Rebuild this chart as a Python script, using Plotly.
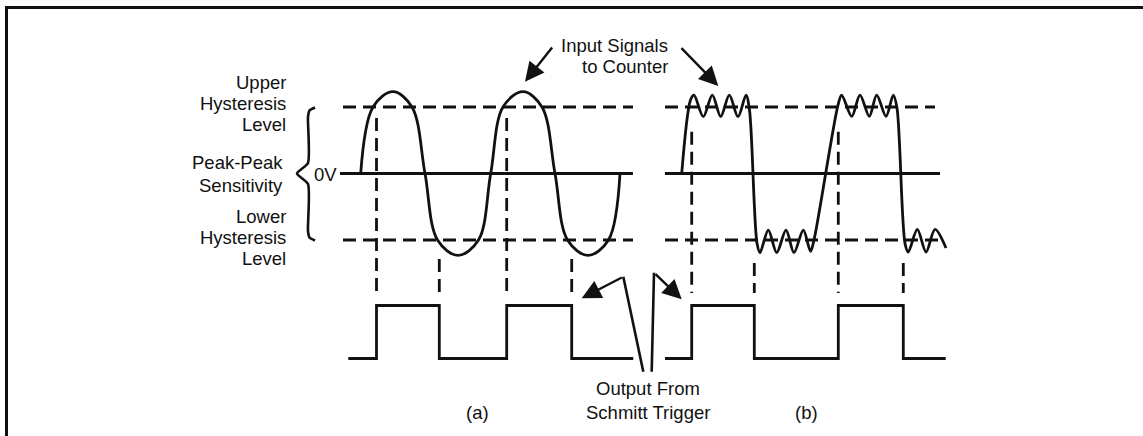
import plotly.graph_objects as go

W, H = 1143, 436

# ---------------- data ----------------
# Levels: 0 V = 0, upper / lower hysteresis levels = +1 / -1
hyst_upper = 1.0
hyst_zero = 0.0
hyst_lower = -1.0

# (a) sine-wave input signal: time position and level
sine_t = [360.7, 373, 393, 412, 425, 437.5, 458, 478.5, 490.7, 503, 523, 542, 555, 567.5, 588, 608.5, 620]
sine_v = [0, 1.0, 1.23, 1.0, 0, -1.0, -1.23, -1.0, 0, 1.0, 1.23, 1.0, 0, -1.0, -1.23, -1.0, 0]

# (b) noisy square-ish input signal
noisy_t = [681.7, 690.5, 694, 703.3, 712.3, 720.7, 729.3, 738, 746, 749.5, 757, 760,
           768.3, 776.7, 786, 794, 803.3, 810.5, 814, 838, 841.7, 851.7, 860, 869.3,
           876.7, 886, 893.3, 897, 905, 908.3, 917.3, 926, 935, 946]
noisy_v = [0, 1.105, 1.18, 0.854, 1.18, 0.854, 1.18, 0.854, 1.18, 0.955, -1.05, -1.19,
           -0.85, -1.19, -0.85, -1.19, -0.85, -1.17, -1.0, 1.03, 1.18, 0.86, 1.18, 0.86,
           1.18, 0.86, 1.18, 0.985, -1.05, -1.18, -0.84, -1.18, -0.84, -1.12]

# Schmitt trigger output (0 = low, 1 = high), step edges
out_a_t = [348.3, 376.5, 439.3, 506.7, 571.7, 633.3]
out_a_v = [0, 1, 0, 1, 0, 0]
out_b_t = [665, 691.7, 754.3, 838.3, 903.3, 945.7]
out_b_v = [0, 1, 0, 1, 0, 0]

# trigger instants (where output switches)
rise_a = [376.5, 506.7]
fall_a = [439.3, 571.7]
rise_b = [691.7, 838.3]
fall_b = [754.3, 903.3]

# extents of the reference level lines for each panel
span_a = (343, 633)
span_a_zero = (340, 633)
span_b = (665, 935)
span_b_zero = (665, 940)
span_b_lower = (665, 940)

INK = "#111111"
FONT = "Liberation Sans, Arial, Helvetica, sans-serif"
LW = 2.8
DASH = "13px,7px"

fig = go.Figure()


def add_line(x, y, dash=None, shape="linear", yaxis="y", smoothing=1.0, width=LW):
    fig.add_trace(go.Scatter(
        x=x, y=y, mode="lines", yaxis=yaxis, hoverinfo="skip", showlegend=False,
        line=dict(color=INK, width=width, dash=dash, shape=shape,
                  smoothing=smoothing if shape == "spline" else None)))


# reference level lines
for lo, hi in (span_a, span_b):
    add_line([lo, hi], [hyst_upper, hyst_upper], dash=DASH)
add_line([span_a[0], span_a[1]], [hyst_lower, hyst_lower], dash=DASH)
add_line([span_b_lower[0], span_b_lower[1]], [hyst_lower, hyst_lower], dash=DASH)
add_line([span_a_zero[0], span_a_zero[1]], [hyst_zero, hyst_zero])
add_line([span_b_zero[0], span_b_zero[1]], [hyst_zero, hyst_zero])

# vertical dashed projection lines (level units on the input axis)
def proj(times, top, bottom):
    xs, ys = [], []
    for t in times:
        xs += [t, t, None]
        ys += [top, bottom, None]
    add_line(xs, ys, dash=DASH)

proj(rise_a, 0.835, -1.857)
proj(fall_a, -1.286, -1.857)
proj(rise_b, 0.629, -1.797)
proj(fall_b, -1.346, -1.797)

# input signals
add_line(sine_t, sine_v, shape="spline", smoothing=1.0)
add_line(noisy_t, noisy_v, shape="spline", smoothing=0.9)

# output signals
add_line(out_a_t, out_a_v, shape="hv", yaxis="y2")
add_line(out_b_t, out_b_v, shape="hv", yaxis="y2")

# brace (layout pixel axis)
brace_x = [315, 309.5, 308, 308, 297, 308, 308, 309.5, 315]
brace_y = [107.5, 110.5, 117, 163, 173.5, 184, 231, 237.5, 240.5]
add_line(brace_x, brace_y, shape="spline", smoothing=0.6, yaxis="y3", width=2.6)

# leader lines for "Output From Schmitt Trigger"
add_line([643.3, 623.3], [371.7, 276.7], yaxis="y3", width=2.6)
add_line([651.7, 654.0], [371.7, 272.7], yaxis="y3", width=2.6)

# ---------------- text ----------------
def label(text, x, y, xanchor="center"):
    fig.add_annotation(text=text, x=x, y=y, xref="x", yref="y3", showarrow=False,
                       xanchor=xanchor, yanchor="middle",
                       font=dict(family=FONT, size=18.5, color=INK))

label("Upper", 288, 82, "right")
label("Hysteresis", 288, 103, "right")
label("Level", 288, 124, "right")
label("Peak-Peak", 285, 162, "right")
label("Sensitivity", 285, 185, "right")
label("Lower", 288, 216.5, "right")
label("Hysteresis", 288, 237, "right")
label("Level", 288, 258.5, "right")
label("0V", 339, 174, "right")
label("Input Signals", 670, 45.5, "right")
label("to Counter", 670, 66.5, "right")
label("Output From", 647.5, 388)
label("Schmitt Trigger", 647.5, 412)
label("(a)", 477.7, 412)
label("(b)", 806, 412)

# arrows: head (x, y), tail offset (ax, ay) in pixels
def arrow(x, y, ax, ay):
    fig.add_annotation(x=x, y=y, xref="x", yref="y3", ax=ax, ay=ay, text="",
                       showarrow=True, arrowhead=2, arrowsize=1.6, arrowwidth=2.4,
                       arrowcolor=INK, standoff=0)

arrow(525, 81.7, 28.3, -35.7)
arrow(718.3, 86, -38.3, -39.3)
arrow(581.7, 298.3, 41.6, -21.6)
arrow(681.7, 299.3, -27.7, -26.6)

# frame (top and left border)
fig.add_shape(type="line", xref="x", yref="y3", x0=5, x1=W, y0=7.5, y1=7.5,
              line=dict(color=INK, width=3))
fig.add_shape(type="line", xref="x", yref="y3", x0=6.5, x1=6.5, y0=6, y1=H,
              line=dict(color=INK, width=3))

fig.update_layout(
    width=W, height=H, autosize=False,
    margin=dict(l=0, r=0, t=0, b=0, pad=0),
    paper_bgcolor="white", plot_bgcolor="white",
    xaxis=dict(range=[0, W], visible=False, fixedrange=True),
    yaxis=dict(range=[-3.947, 2.609], visible=False, fixedrange=True),
    yaxis2=dict(range=[-1.462, 6.764], overlaying="y", visible=False, fixedrange=True),
    yaxis3=dict(range=[H, 0], overlaying="y", visible=False, fixedrange=True),
    showlegend=False,
)

# remove the browser's default page margin so the figure sits at the window origin
fig.write_html("out.html", config={"displayModeBar": False},
               post_script="document.body.style.margin='0';document.body.style.overflow='hidden';")
